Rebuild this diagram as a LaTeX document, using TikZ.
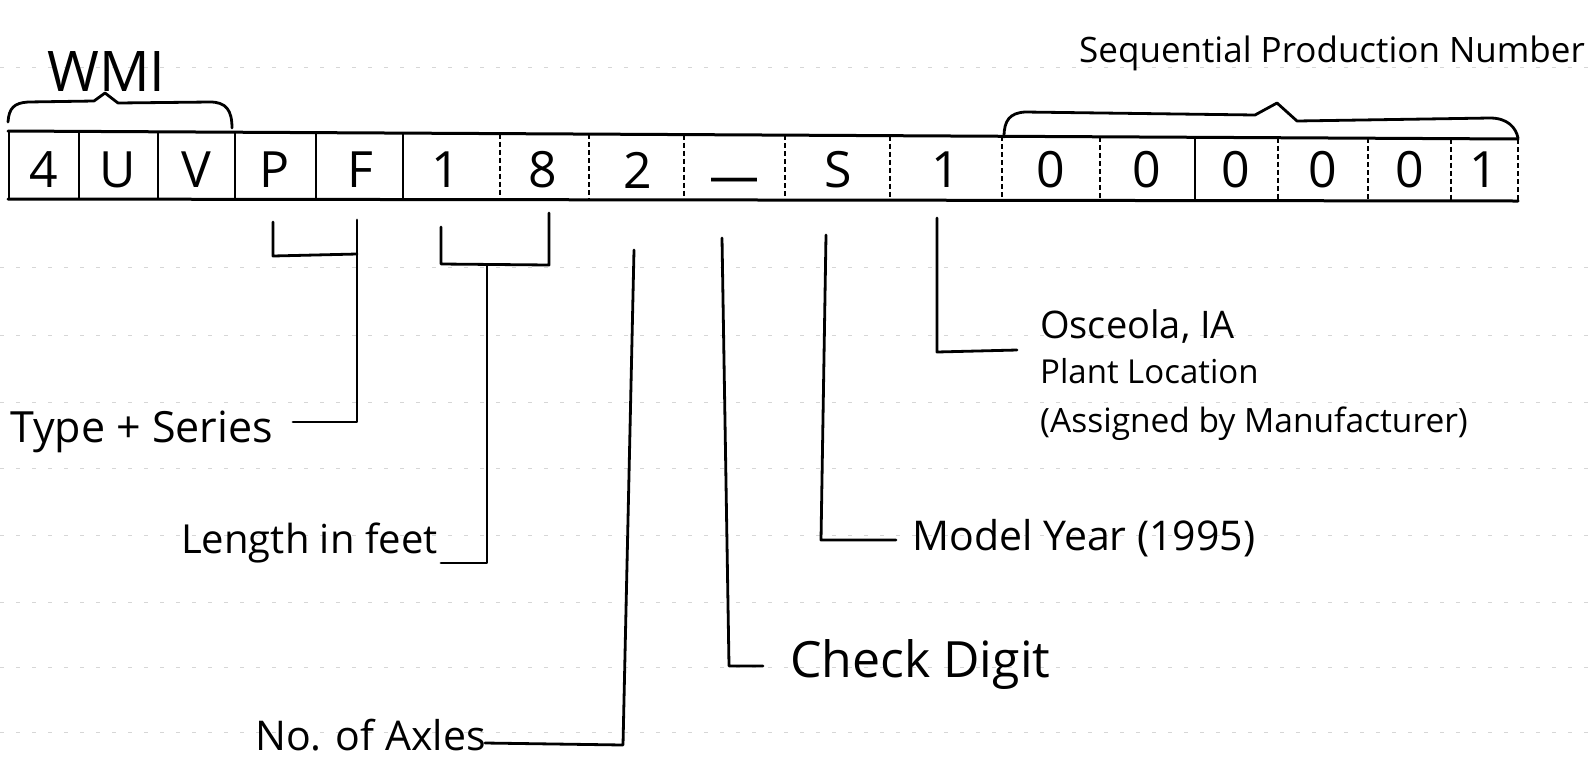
\documentclass[tikz,border=0pt]{standalone}
\usepackage{fontspec}
\setmainfont{Open Sans}
\begin{document}
\begin{tikzpicture}[x=1pt,y=-1pt,
  conn/.style={line width=2.8pt, line cap=round, line join=round},
  rowline/.style={line width=3pt, line cap=round},
  divsolid/.style={line width=1.1pt},
  divdash/.style={line width=1.1pt, dash pattern=on 5pt off 3pt},
  ruled/.style={draw=black!16, line width=0.8pt, dash pattern=on 4pt off 12pt},
  cellchar/.style={font=\fontsize{50}{50}\selectfont, anchor=center, inner sep=0pt},
  lbl/.style={font=\fontsize{#1}{#1}\selectfont, anchor=base west, inner sep=0pt},
]
\useasboundingbox (0,0) rectangle (1589,764);
\fill[white] (0,0) rectangle (1589,764);

% faint ruled paper lines
\foreach \yy in {67,267,335,402,468,535,602,667,732}
  \draw[ruled] (0,\yy) -- (1589,\yy);

% cell row
\draw[rowline] (8,131) -- (1518,139);
\draw[rowline] (8,199) -- (1518,201);
\foreach \xx in {9,79,158,235,316,403,1195}
  \draw[divsolid] (\xx,{131+(\xx-8)*0.0053}) -- (\xx,{199+(\xx-8)*0.0013});
\foreach \xx in {500,589,684,785,890,1002,1100,1278,1368,1451,1518}
  \draw[divdash] (\xx,{131+(\xx-8)*0.0053}) -- (\xx,{199+(\xx-8)*0.0013});

\foreach \xx/\ch [count=\i] in {44/4,118/U,196/V,275/P,360/F,446/1,543/8,638/2}
  \node[cellchar] (c\i) at (\xx,170) {\ch};
\node[cellchar] (c9) at (734,186) {---};
\foreach \xx/\ch [count=\i from 10] in {838/S,946/1,1051/0,1147/0,1236/0,1323/0,1410/0,1484/1}
  \node[cellchar] (c\i) at (\xx,170) {\ch};

% braces
\draw[conn] (8,122) .. controls (9,108) and (14,103) .. (28,102) -- (94,101) -- (105,93) -- (118,103) -- (210,102) .. controls (226,102) and (232,110) .. (232,128);
\draw[conn] (1004,137) .. controls (1004,120) and (1010,113) .. (1025,112) -- (1255,115) -- (1277,103) -- (1297,121) -- (1490,118) .. controls (1508,118) and (1516,128) .. (1518,138);

% labels
\node[lbl=56] (wmi) at (47,91) {WMI};
\node[lbl=35] (spn) at (1079,62) {Sequential Production Number};
\node[lbl=43] (ts) at (10,442) {Type + Series};
\node[lbl=40] (len) at (181,553) {Length in feet};
\node[lbl=41] (axl) at (255,750) {No. of Axles};
\node[lbl=50] (chk) at (790,677) {Check Digit};
\node[lbl=41] (my) at (912,550) {Model Year (1995)};
\node[lbl=38] (osc) at (1040,338) {Osceola, IA};
\node[lbl=33] (pl) at (1040,383) {Plant Location};
\node[lbl=33.5] (asg) at (1040,432) {(Assigned by Manufacturer)};

% connector coordinates
\coordinate (tsA) at (273,222);
\coordinate (tsB) at (273,256);
\coordinate (tsC) at (357,254);
\coordinate (tsD) at (357,220);
\coordinate (tsE) at (357,422);
\coordinate (tsF) at (293,422);
\draw[conn] (tsA) -- (tsB) -- (tsC);
\draw[conn] (tsD) -- (tsE) -- (tsF);

\coordinate (lnA) at (441,227);
\coordinate (lnB) at (441,264);
\coordinate (lnC) at (549,265);
\coordinate (lnD) at (549,213);
\coordinate (lnE) at (487,265);
\coordinate (lnF) at (487,563);
\coordinate (lnG) at (441,563);
\draw[conn] (lnA) -- (lnB) -- (lnC) -- (lnD);
\draw[conn] (lnE) -- (lnF) -- (lnG);

\coordinate (axA) at (634,250);
\coordinate (axB) at (623,745);
\coordinate (axC) at (485,743);
\draw[conn] (axA) -- (axB) -- (axC);

\coordinate (ckA) at (722,238);
\coordinate (ckB) at (729,666);
\coordinate (ckC) at (763,666);
\draw[conn] (ckA) -- (ckB) -- (ckC);

\coordinate (myA) at (826,235);
\coordinate (myB) at (821,540);
\coordinate (myC) at (896,540);
\draw[conn] (myA) -- (myB) -- (myC);

\coordinate (plA) at (937,218);
\coordinate (plB) at (937,352);
\coordinate (plC) at (1017,350);
\draw[conn] (plA) -- (plB) -- (plC);
\end{tikzpicture}
\end{document}
